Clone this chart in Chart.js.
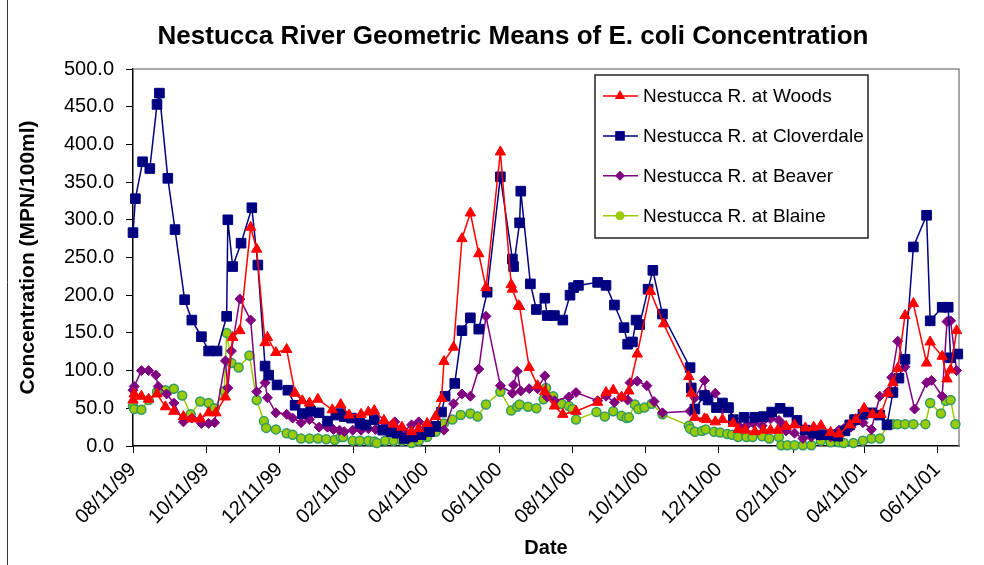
<!DOCTYPE html>
<html>
<head>
<meta charset="utf-8">
<script src="https://cdn.jsdelivr.net/npm/chart.js@4.4.0/dist/chart.umd.min.js"></script>
<style>
  html, body { margin: 0; padding: 0; background: #fff; }
  #wrap { position: relative; width: 984px; height: 565px; }
</style>
</head>
<body>
<div id="wrap"><canvas id="chart" width="984" height="565"></canvas></div>
<script>
    // dates are stored as days since 08/11/99
    const startDate = new Date(1999, 7, 11);
    const tickLabels = ['08/11/99', '10/11/99', '12/11/99', '02/11/00', '04/11/00', '06/11/00',
        '08/11/00', '10/11/00', '12/11/00', '02/11/01', '04/11/01', '06/11/01'];
    const lastDay = 688;

    const chartTitle = 'Nestucca River Geometric Means of E. coli Concentration';
    const seriesNames = ['Nestucca R. at Woods', 'Nestucca R. at Cloverdale', 'Nestucca R. at Beaver', 'Nestucca R. at Blaine'];

    const woodsDays = [0, 1, 7, 13, 20, 27, 34, 42, 49, 56, 63, 69, 77, 83, 89, 98, 103, 110, 112, 119,
        128, 135, 141, 147, 154, 166, 173, 180, 190, 196, 201, 209, 217, 224, 232, 238, 245, 252, 257, 259,
        267, 274, 281, 288, 294, 306, 315, 316, 321, 322, 330, 337, 343, 351, 358, 369, 387, 394, 400, 407,
        413, 420, 431, 442, 463, 465, 468, 476, 478, 485, 491, 500, 504, 510, 518, 525, 531, 537, 544, 551,
        560, 567, 573, 581, 588, 597, 602, 609, 616, 623, 629, 633, 637, 643, 650, 661, 664, 674, 678, 681, 686];
    const woodsValues = [61, 69, 66, 62, 69, 52, 46, 39, 36, 36, 44, 44, 65, 144, 153, 290, 261, 137, 144, 124,
        128, 70, 60, 57, 62, 48, 55, 41, 42, 45, 47, 34, 29, 25, 19, 23, 30, 39, 63, 112,
        131, 275, 309, 255, 210, 390, 214, 208, 186, 185, 104, 80, 72, 53, 42, 46, 58, 71, 74, 65,
        73, 122, 205, 162, 92, 70, 38, 36, 35, 32, 35, 30, 22, 21, 19, 21, 21, 21, 26, 28,
        24, 25, 27, 18, 16, 28, 35, 50, 42, 42, 70, 84, 103, 173, 189, 110, 138, 119, 89, 101, 153];

    const cloverdaleDays = [0, 2, 8, 14, 20, 22, 29, 35, 43, 49, 57, 63, 70, 78, 79, 83, 90, 99, 104, 110,
        113, 120, 129, 135, 141, 148, 155, 162, 169, 173, 176, 182, 189, 194, 201, 208, 215, 220, 226, 233,
        240, 247, 252, 257, 260, 268, 274, 281, 288, 295, 306, 316, 317, 322, 323, 331, 336, 343, 345, 351,
        358, 364, 367, 371, 387, 394, 401, 409, 412, 416, 419, 422, 429, 433, 441, 464, 465, 468, 476, 479,
        486, 491, 496, 500, 509, 518, 525, 532, 539, 546, 553, 560, 567, 573, 581, 587, 593, 597, 601, 608,
        615, 622, 628, 633, 638, 643, 650, 661, 664, 674, 679, 681, 687];
    const cloverdaleValues = [283, 328, 377, 368, 453, 468, 355, 287, 194, 167, 145, 126, 126, 172, 300, 238, 269, 316, 240, 106,
        94, 81, 74, 54, 43, 46, 44, 33, 41, 43, 39, 37, 30, 28, 35, 21, 19, 17, 10, 12,
        15, 19, 26, 45, 66, 83, 153, 170, 155, 204, 357, 248, 238, 296, 338, 215, 181, 196, 173, 173,
        167, 200, 210, 213, 217, 213, 187, 157, 135, 138, 167, 161, 208, 233, 175, 104, 77, 49, 67, 61,
        51, 57, 51, 35, 38, 38, 39, 45, 50, 45, 34, 21, 17, 15, 15, 13, 20, 28, 35, 42,
        44, 41, 28, 71, 90, 115, 264, 306, 166, 184, 184, 117, 122];

    const beaverDays = [0, 1, 7, 13, 19, 21, 28, 34, 42, 49, 57, 63, 68, 77, 79, 82, 89, 98, 103, 110,
        112, 119, 128, 133, 140, 147, 155, 162, 167, 172, 176, 183, 190, 196, 202, 210, 218, 225, 232, 238,
        245, 259, 267, 274, 281, 288, 294, 306, 316, 317, 320, 323, 330, 337, 343, 345, 351, 363, 369, 387,
        394, 401, 407, 412, 414, 420, 428, 434, 441, 464, 468, 476, 477, 485, 491, 496, 505, 511, 517, 524,
        531, 538, 542, 544, 551, 558, 565, 572, 581, 588, 592, 598, 608, 615, 622, 629, 632, 637, 643, 651,
        661, 665, 674, 678, 681, 686];
    const beaverValues = [74, 79, 100, 100, 94, 79, 69, 57, 32, 37, 30, 30, 31, 113, 77, 126, 195, 167, 72, 84,
        64, 44, 42, 37, 31, 35, 25, 25, 22, 21, 19, 21, 21, 23, 22, 30, 32, 19, 28, 32,
        24, 21, 56, 69, 66, 102, 172, 80, 70, 81, 99, 73, 76, 76, 93, 65, 60, 65, 71, 60,
        66, 58, 65, 61, 84, 86, 80, 59, 44, 46, 64, 87, 69, 70, 49, 50, 26, 27, 30, 27,
        36, 34, 27, 20, 17, 10, 12, 14, 12, 21, 23, 25, 31, 22, 66, 72, 91, 139, 105, 49,
        84, 87, 66, 165, 166, 100];

    const blaineDays = [0, 1, 7, 13, 20, 22, 27, 34, 41, 48, 56, 63, 68, 76, 78, 82, 88, 97, 103, 109,
        111, 119, 128, 133, 140, 147, 154, 161, 168, 173, 175, 183, 189, 196, 201, 203, 210, 217, 224, 232,
        238, 245, 252, 256, 259, 266, 273, 281, 287, 294, 306, 315, 320, 322, 329, 336, 342, 344, 350, 357,
        363, 366, 369, 386, 393, 400, 407, 411, 413, 418, 421, 426, 432, 441, 463, 464, 468, 474, 477, 484,
        489, 495, 499, 504, 511, 516, 524, 530, 538, 540, 545, 551, 558, 565, 573, 581, 588, 592, 600, 608,
        615, 622, 629, 633, 637, 643, 650, 660, 664, 673, 677, 681, 685];
    const blaineValues = [53, 49, 48, 61, 72, 74, 74, 76, 67, 42, 59, 57, 50, 73, 150, 110, 104, 120, 61, 33,
        24, 22, 17, 15, 10, 10, 10, 9, 8, 12, 12, 7, 7, 7, 6, 4, 7, 7, 7, 4,
        7, 12, 19, 25, 30, 35, 41, 43, 39, 55, 72, 47, 52, 55, 52, 50, 62, 77, 66, 56,
        53, 49, 35, 45, 39, 46, 40, 37, 38, 55, 49, 51, 56, 42, 27, 23, 19, 20, 22, 19,
        18, 16, 15, 12, 12, 12, 13, 10, 12, 1, 1, 1, 1, 1, 7, 5, 5, 4, 4, 7,
        10, 10, 29, 29, 29, 29, 29, 29, 57, 43, 60, 61, 29];

    function dayOf(label) {
        const [m, d, y] = label.split('/').map(Number);
        const dt = new Date(2000 + y - (y > 50 ? 100 : 0), m - 1, d);
        return Math.round((dt - startDate) / 86400000);
    }
    const tickDays = tickLabels.map(dayOf);

    function points(days, values) {
        return days.map((d, i) => ({ x: d, y: values[i] }));
    }

    const FONT = "'Liberation Sans', Arial, sans-serif";

    const datasets = [
        { label: seriesNames[0], data: points(woodsDays, woodsValues), borderColor: '#FF0000', backgroundColor: '#FF0000',
          pointStyle: 'triangle', pointRadius: 6, pointBorderColor: '#FF0000', pointBackgroundColor: '#FF0000', borderWidth: 1.5, pointBorderWidth: 1 },
        { label: seriesNames[1], data: points(cloverdaleDays, cloverdaleValues), borderColor: '#000080', backgroundColor: '#000080',
          pointStyle: 'rect', pointRadius: 6.8, pointBorderColor: '#000080', pointBackgroundColor: '#000080', borderWidth: 1.5, pointBorderWidth: 1 },
        { label: seriesNames[2], data: points(beaverDays, beaverValues), borderColor: '#800080', backgroundColor: '#800080',
          pointStyle: 'rectRot', pointRadius: 5, pointBorderColor: '#800080', pointBackgroundColor: '#800080', borderWidth: 1.5, pointBorderWidth: 1 },
        { label: seriesNames[3], data: points(blaineDays, blaineValues), borderColor: '#99CC00', backgroundColor: '#99CC00',
          pointStyle: 'circle', pointRadius: 4.5, pointBorderColor: '#339966', pointBackgroundColor: '#99CC00', borderWidth: 1.5, pointBorderWidth: 1.5 }
    ];
    datasets.forEach(ds => { ds.clip = false; ds.tension = 0; ds.fill = false; });

    // title, gray frame on top/right of plot, outer left rule
    const frame = {
        id: 'frame',
        beforeDatasetsDraw(chart) {
            const { ctx, chartArea: a } = chart;
            ctx.save();
            ctx.strokeStyle = '#8c8c8c';
            ctx.lineWidth = 1.5;
            ctx.beginPath();
            ctx.moveTo(a.left, a.top);
            ctx.lineTo(a.right, a.top);
            ctx.lineTo(a.right, a.bottom);
            ctx.stroke();
            ctx.strokeStyle = '#333';
            ctx.lineWidth = 1;
            ctx.beginPath();
            ctx.moveTo(7.5, 0);
            ctx.lineTo(7.5, chart.height);
            ctx.stroke();
            ctx.fillStyle = '#000';
            ctx.font = 'bold 26px ' + FONT;
            ctx.textAlign = 'center';
            ctx.textBaseline = 'middle';
            ctx.fillText(chartTitle, 513, 37);
            ctx.restore();
        }
    };

    // boxed legend inside the plot, Excel style
    const boxLegend = {
        id: 'boxLegend',
        afterDraw(chart) {
            const { ctx, chartArea: a } = chart;
            const left = a.right - 364, top = a.top + 6, w = 273, h = 163;
            ctx.save();
            ctx.fillStyle = '#fff';
            ctx.fillRect(left, top, w, h);
            ctx.strokeStyle = '#222';
            ctx.lineWidth = 1.5;
            ctx.strokeRect(left, top, w, h);
            chart.data.datasets.forEach((ds, i) => {
                const y = top + 21 + i * 39.9;
                ctx.strokeStyle = ds.borderColor;
                ctx.lineWidth = 1.5;
                ctx.beginPath();
                ctx.moveTo(left + 8, y);
                ctx.lineTo(left + 43, y);
                ctx.stroke();
                ctx.fillStyle = ds.pointBackgroundColor;
                ctx.strokeStyle = ds.pointBorderColor;
                ctx.lineWidth = ds.pointBorderWidth;
                Chart.helpers.drawPoint(ctx, { pointStyle: ds.pointStyle, radius: ds.pointRadius, rotation: 0 }, left + 25, y);
                ctx.fillStyle = '#000';
                ctx.font = '19px ' + FONT;
                ctx.textBaseline = 'middle';
                ctx.textAlign = 'left';
                ctx.fillText(ds.label, left + 48, y + 1);
            });
            ctx.restore();
        }
    };

    new Chart(document.getElementById('chart'), {
        type: 'line',
        data: { datasets: datasets },
        options: {
            responsive: false,
            animation: false,
            devicePixelRatio: 1,
            layout: { padding: { left: 14, right: 25, top: 69, bottom: 5 } },
            plugins: {
                legend: { display: false },
                tooltip: { enabled: false },
                title: { display: false }
            },
            scales: {
                x: {
                    type: 'linear',
                    min: 0,
                    max: lastDay,
                    afterFit(scale) { scale.height = 114; },
                    afterBuildTicks(scale) { scale.ticks = tickDays.map(v => ({ value: v })); },
                    grid: { drawOnChartArea: false, drawTicks: true, tickLength: 7, color: '#000' },
                    border: { color: '#000', width: 1.5 },
                    ticks: {
                        color: '#000',
                        font: { family: FONT, size: 20 },
                        minRotation: 45,
                        maxRotation: 45,
                        padding: 5,
                        autoSkip: false,
                        callback: v => tickLabels[tickDays.indexOf(v)]
                    },
                    title: { display: true, text: 'Date', color: '#000', font: { family: FONT, size: 20, weight: 'bold' }, padding: 0 }
                },
                y: {
                    min: 0,
                    max: 500,
                    afterFit(scale) { scale.width = 119; },
                    grid: { drawOnChartArea: false, drawTicks: true, tickLength: 7, color: '#000' },
                    border: { color: '#000', width: 1.5 },
                    ticks: {
                        stepSize: 50,
                        color: '#000',
                        padding: 12,
                        font: { family: FONT, size: 20 },
                        callback: v => v.toFixed(1)
                    },
                    title: { display: true, text: 'Concentration (MPN/100ml)', color: '#000', font: { family: FONT, size: 21, weight: 'bold' }, padding: 2 }
                }
            }
        },
        plugins: [frame, boxLegend]
    });
</script>
</body>
</html>
